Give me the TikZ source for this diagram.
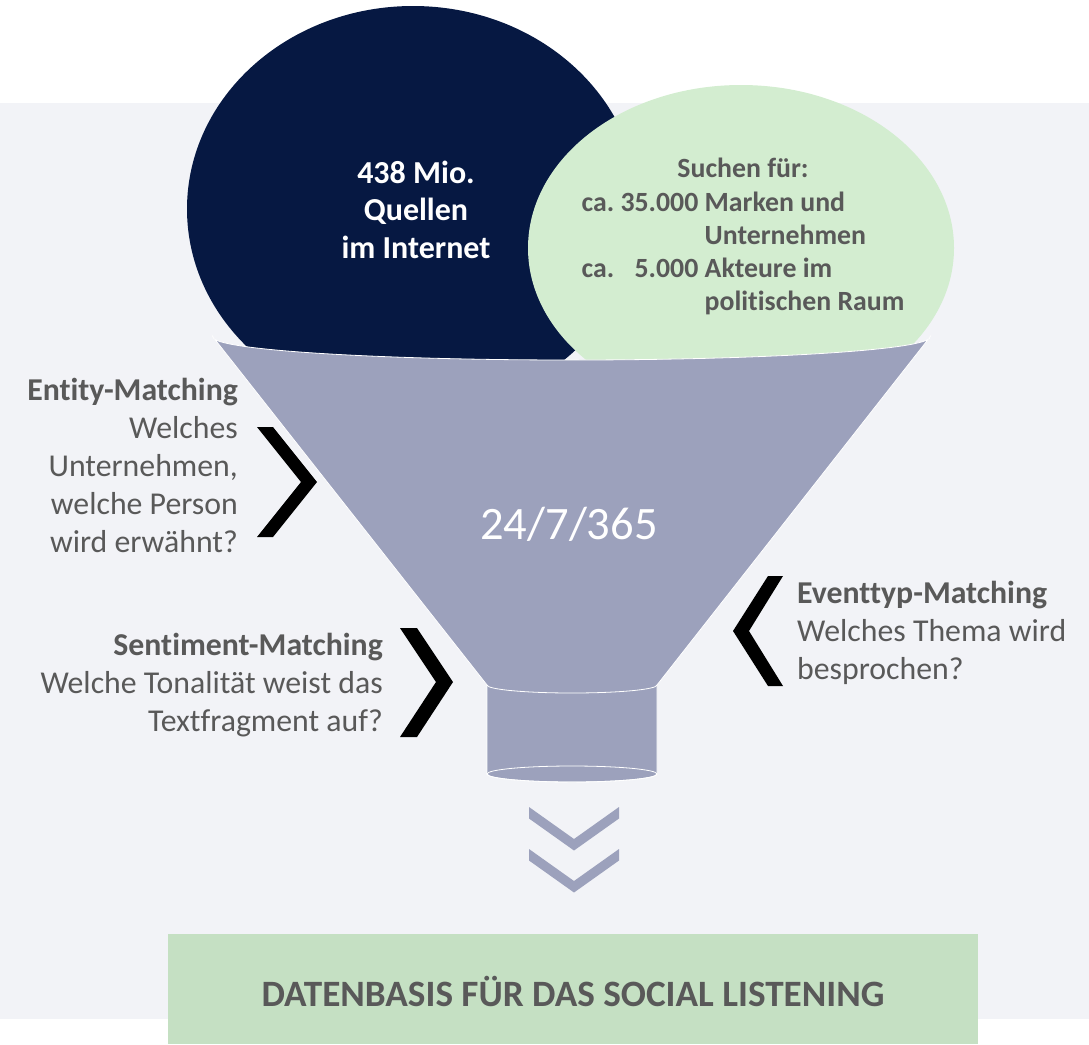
\documentclass[tikz,border=0pt]{standalone}
\usepackage{fontspec}
\setmainfont{Carlito}[Ligatures={NoCommon}]
\definecolor{navy}{HTML}{061842}
\definecolor{lgreen}{HTML}{D3EDD0}
\definecolor{funnelc}{HTML}{9CA1BC}
\definecolor{bggray}{HTML}{F2F3F7}
\definecolor{boxgreen}{HTML}{C5E0C3}
\definecolor{txtgray}{HTML}{595959}
\begin{document}
\begin{tikzpicture}[x=1pt,y=-1pt,
  sidetext/.style={inner sep=0pt, text=txtgray, font=\fontsize{31.8}{38}\selectfont},
  chev/.style={fill=black},
  downchev/.style={fill=funnelc},
  bubbletext/.style={inner sep=0pt, font=\bfseries\fontsize{32}{37.5}\selectfont, align=center}]
\useasboundingbox (0,0) rectangle (1089,1044);
% background
\fill[bggray] (0,103) rectangle (1089,1019);
% circles
\fill[navy] (413,209) ellipse [x radius=226, y radius=203];
\fill[lgreen] (741,248) ellipse [x radius=213, y radius=163];
% neck (cylinder)
\filldraw[fill=funnelc, draw=white, line width=0.8pt]
  (487,685) -- (487,774) arc[start angle=180, end angle=0, x radius=85, y radius=8] -- (657,685) -- cycle;
\draw[white, line width=0.8pt] (572,774) ellipse [x radius=85, y radius=8];
% cone
\filldraw[fill=funnelc, draw=white, line width=0.8pt]
  (213,337) arc[start angle=180, end angle=0, x radius=358.5, y radius=23]
  -- (657,685) arc[start angle=0, end angle=180, x radius=85, y radius=8] -- cycle;
% texts in bubbles
\node[bubbletext, text=white, anchor=north] (src) at (416,160.5) {438 Mio.\\Quellen\\im Internet};
\node[inner sep=0pt, anchor=north, text=txtgray, font=\bfseries\fontsize{27.8}{33.3}\selectfont] (search) at (743,154.2)
 {\begin{tabular}{@{}l@{\ }r@{\ }l@{}}
  \multicolumn{3}{c}{Suchen für:}\\
  ca. & 35.000 & Marken und\\
      &        & Unternehmen\\
  ca. & 5.000  & Akteure im\\
      &        & politischen Raum
  \end{tabular}};
\node[inner sep=0pt, text=white, font=\fontsize{46.5}{55}\selectfont, anchor=base] (time) at (569,539) {24/7/365};
% side labels
\node[sidetext, align=right, anchor=north east] (entity) at (238,378)
 {\textbf{Entity-Matching}\\Welches\\Unternehmen,\\welche Person\\wird erwähnt?};
\node[sidetext, align=right, anchor=north east] (senti) at (383,633)
 {\textbf{Sentiment-Matching}\\Welche Tonalität weist das\\Textfragment auf?};
\node[sidetext, align=left, anchor=north west] (event) at (797,581)
 {\textbf{Eventtyp-Matching}\\Welches Thema wird\\besprochen?};
% black chevrons
\fill[chev] (257,427) -- (273,427) -- (317,482) -- (273,537) -- (257,537) -- (301,482) -- cycle;
\fill[chev] (400,628) -- (417,628) -- (453,682) -- (417,737) -- (400,737) -- (436,682) -- cycle;
\fill[chev] (783,576) -- (768,576) -- (733,631) -- (768,686) -- (783,686) -- (749,631) -- cycle;
% down chevrons
\fill[downchev] (529,807) -- (574,839) -- (619,807) -- (619,818.5) -- (574,850.5) -- (529,818.5) -- cycle;
\fill[downchev] (529,849) -- (574,881) -- (619,849) -- (619,860.5) -- (574,892.5) -- (529,860.5) -- cycle;
% bottom box
\node[fill=boxgreen, minimum width=810pt, minimum height=110pt, anchor=north west, inner sep=0pt] (box) at (168,934) {};
\node[inner sep=0pt, text=txtgray, font=\bfseries\fontsize{37.2}{44}\selectfont, anchor=base] (boxtext) at (573,1006) {DATENBASIS FÜR DAS SOCIAL LISTENING};
\end{tikzpicture}
\end{document}
